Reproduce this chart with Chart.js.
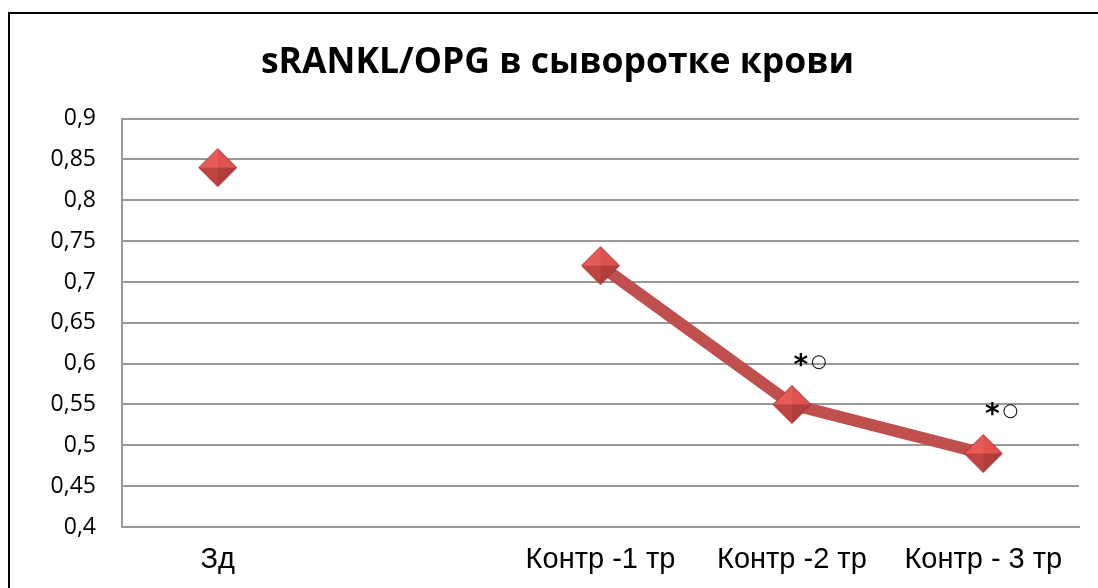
<!DOCTYPE html>
<html>
<head>
<meta charset="utf-8">
<script src="https://cdn.jsdelivr.net/npm/chart.js@4/dist/chart.umd.min.js"></script>
<style>
  html, body { margin: 0; padding: 0; background: #fff; overflow: hidden; }
  #frame { position: absolute; left: 8px; top: 12px; width: 1200px; height: 700px; border: 2px solid #000; }
  #wrap { position: absolute; left: 0; top: 0; width: 1098px; height: 588px; }
</style>
</head>
<body>
<div id="frame"></div>
<div id="wrap"><canvas id="mainChart" width="1098" height="588"></canvas></div>
<script>
// данные графика
var categories = ['Зд', '', 'Контр -1 тр', 'Контр -2 тр', 'Контр - 3 тр'];
var ratioValues = [0.84, null, 0.72, 0.55, 0.49];
var marks = [false, false, false, true, true];   // пометки "*○" над точками
var yMin = 0.4, yMax = 0.9, yStep = 0.05;

// ромб-маркер с объёмной заливкой
function diamond(r) {
  var c = document.createElement('canvas');
  c.width = r * 2 + 2; c.height = r * 2 + 2;
  var g = c.getContext('2d');
  var cx = r + 1, cy = r + 1;
  function tri(x1, y1, x2, y2, col) {
    g.beginPath(); g.moveTo(cx, cy); g.lineTo(x1, y1); g.lineTo(x2, y2); g.closePath();
    g.fillStyle = col; g.fill();
  }
  tri(cx - r, cy, cx, cy - r, '#e85b58'); // верх-лево
  tri(cx, cy - r, cx + r, cy, '#de524f'); // верх-право
  tri(cx + r, cy, cx, cy + r, '#b33d3a'); // низ-право
  tri(cx, cy + r, cx - r, cy, '#c04542'); // низ-лево
  g.beginPath(); g.moveTo(cx, cy - r); g.lineTo(cx + r, cy); g.lineTo(cx, cy + r); g.lineTo(cx - r, cy); g.closePath();
  g.strokeStyle = '#9c3431'; g.lineWidth = 1; g.stroke();
  return c;
}

// подписи "*○" над точками
var marksPlugin = {
  id: 'marks',
  afterDatasetsDraw: function(chart) {
    var meta = chart.getDatasetMeta(0);
    var ctx = chart.ctx;
    ctx.save();
    ctx.fillStyle = '#000';
    ctx.textAlign = 'center';
    ctx.textBaseline = 'middle';
    meta.data.forEach(function(pt, i) {
      if (!marks[i]) return;
      ctx.font = 'bold 28px "DejaVu Sans"';
      ctx.fillText('*', pt.x + 9, pt.y - 38);
      ctx.font = '18px "DejaVu Sans"';
      ctx.fillText('○', pt.x + 27, pt.y - 42);
    });
    ctx.restore();
  }
};

var gridColor = '#999999';
var ctx = document.getElementById('mainChart');
var myChart = new Chart(ctx, {
  type: 'line',
  data: {
    labels: categories,
    datasets: [{
      data: ratioValues,
      borderColor: '#c0504d',
      borderWidth: 12,
      pointStyle: diamond(19),
      pointRadius: 19,
      pointHoverRadius: 19,
      spanGaps: false,
      tension: 0
    }]
  },
  options: {
    responsive: false,
    animation: false,
    layout: { autoPadding: false, padding: { left: 36, right: 19, top: 0, bottom: 0 } },
    plugins: {
      legend: { display: false },
      tooltip: { enabled: false },
      title: {
        display: true,
        text: 'sRANKL/OPG в сыворотке крови',
        color: '#000',
        font: { family: '"Open Sans"', size: 35.5, weight: 'bold', lineHeight: 1.2 },
        padding: { top: 42, bottom: 34 }
      }
    },
    scales: {
      x: {
        offset: true,
        grid: { display: false, drawTicks: false, offset: true },
        border: { display: true, color: gridColor, width: 2 },
        ticks: { color: '#000', font: { family: '"Liberation Sans"', size: 29 }, padding: 16, maxRotation: 0, autoSkip: false },
        afterFit: function(s) { s.height = 61; s.paddingLeft = 0; s.paddingRight = 0; }
      },
      y: {
        min: yMin, max: yMax,
        grid: { color: gridColor, lineWidth: 2, drawTicks: false },
        border: { display: true, color: gridColor, width: 2 },
        ticks: {
          stepSize: yStep,
          color: '#000',
          font: { family: '"Open Sans"', size: 23 },
          padding: 26,
          callback: function(v) { return String(Math.round(v * 100) / 100).replace('.', ','); }
        },
        afterFit: function(s) { s.width = 86; }
      }
    }
  },
  plugins: [marksPlugin]
});
</script>
</body>
</html>
